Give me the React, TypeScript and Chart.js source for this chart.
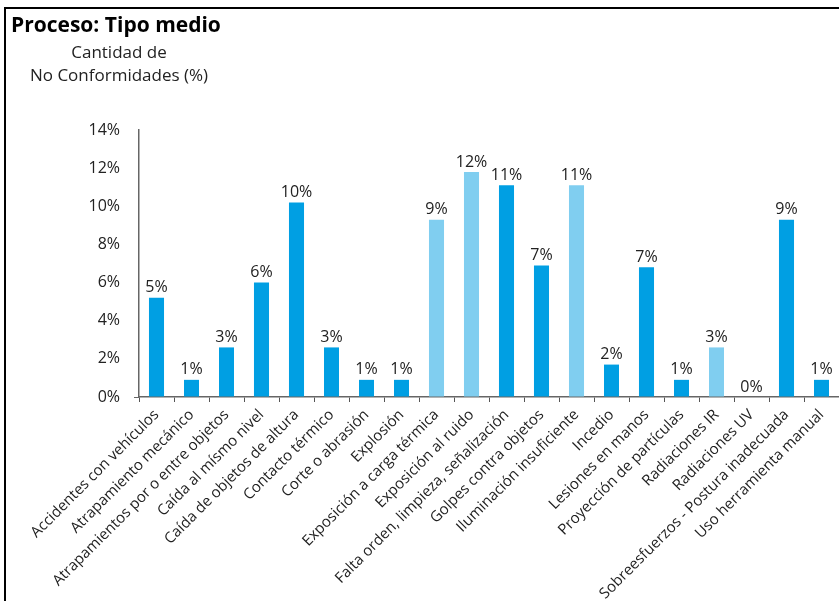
import React, { useEffect, useRef } from "react";
import { Chart, registerables } from "chart.js";

Chart.register(...registerables);

const categories = [
  "Accidentes con vehículos",
  "Atrapamiento mecánico",
  "Atrapamientos por o entre objetos",
  "Caída al mísmo nivel",
  "Caída de objetos de altura",
  "Contacto térmico",
  "Corte o abrasión",
  "Explosión",
  "Exposición a carga térmica",
  "Exposición al ruido",
  "Falta orden, limpieza, señalización",
  "Golpes contra objetos",
  "Iluminación insuficiente",
  "Incedio",
  "Lesiones en manos",
  "Proyección de partículas",
  "Radiaciones IR",
  "Radiaciones UV",
  "Sobreesfuerzos - Postura inadecuada",
  "Uso herramienta manual",
];

const values = [
  5.2, 0.9, 2.6, 6.0, 10.2, 2.6, 0.9, 0.9, 9.3, 11.8,
  11.1, 6.9, 11.1, 1.7, 6.8, 0.9, 2.6, 0, 9.3, 0.9,
];

// 1 = light blue bar, 0 = dark blue bar
const highlight = [0, 0, 0, 0, 0, 0, 0, 0, 1, 1, 0, 0, 1, 0, 0, 0, 1, 0, 0, 0];

const yTicks = [0, 2, 4, 6, 8, 10, 12, 14];

const title = "Proceso: Tipo medio";
const axisTitleLines = ["Cantidad de", "No Conformidades (%)"];

const DARK = "#009fe3";
const LIGHT = "#80cef0";
const FONT = "'Open Sans', sans-serif";

export default function App() {
  const ref = useRef<HTMLCanvasElement | null>(null);

  useEffect(() => {
    document.body.style.margin = "0";
    const canvas = ref.current;
    if (!canvas) return;

    const decor = {
      id: "decor",
      beforeDraw(chart: any) {
        const { ctx } = chart;
        ctx.save();
        ctx.fillStyle = "#fff";
        ctx.fillRect(0, 0, chart.width, chart.height);
        ctx.strokeStyle = "#000";
        ctx.lineWidth = 2;
        ctx.beginPath();
        ctx.moveTo(5, chart.height);
        ctx.lineTo(5, 8);
        ctx.lineTo(chart.width, 8);
        ctx.stroke();
        ctx.fillStyle = "#000";
        ctx.textBaseline = "middle";
        ctx.textAlign = "left";
        ctx.font = `bold 21px ${FONT}`;
        ctx.fillText(title, 11, 26);
        ctx.fillStyle = "#222";
        ctx.textAlign = "center";
        ctx.font = `17px ${FONT}`;
        ctx.fillText(axisTitleLines[0], 119, 53);
        ctx.fillText(axisTitleLines[1], 119, 76);
        ctx.restore();
      },
      afterDatasetsDraw(chart: any) {
        const { ctx } = chart;
        const meta = chart.getDatasetMeta(0);
        ctx.save();
        ctx.fillStyle = "#222";
        ctx.font = `16px ${FONT}`;
        ctx.textAlign = "center";
        ctx.textBaseline = "bottom";
        meta.data.forEach((bar: any, i: number) => {
          ctx.fillText(Math.round(values[i]) + "%", bar.x, bar.y - 2);
        });
        ctx.restore();
      },
    };

    const chart = new Chart(canvas, {
      type: "bar",
      data: {
        labels: categories,
        datasets: [
          {
            data: values,
            backgroundColor: highlight.map((h) => (h ? LIGHT : DARK)),
            barPercentage: 0.43,
            categoryPercentage: 1,
          },
        ],
      },
      options: {
        responsive: false,
        animation: false,
        layout: { padding: { top: 130, right: 0, left: 0, bottom: 0 } },
        plugins: {
          legend: { display: false },
          tooltip: { enabled: false },
        },
        scales: {
          x: {
            grid: {
              display: true,
              drawOnChartArea: false,
              drawTicks: true,
              tickLength: 5,
              color: "#555",
              offset: true,
            },
            border: { display: true, color: "#666", width: 1.5 },
            ticks: {
              color: "#222",
              font: { family: FONT, size: 15 },
              maxRotation: 45,
              minRotation: 45,
              autoSkip: false,
              padding: 4,
            },
            afterFit(scale: any) {
              scale.height = 204;
            },
          },
          y: {
            min: 0,
            max: 14,
            afterBuildTicks(scale: any) {
              scale.ticks = yTicks.map((v) => ({ value: v }));
            },
            grid: {
              display: true,
              drawOnChartArea: false,
              tickLength: 5,
              color: (c: any) => (c.tick && c.tick.value === 0 ? "#666" : "rgba(0,0,0,0)"),
            },
            border: { display: true, color: "#666", width: 1.5 },
            ticks: {
              color: "#222",
              font: { family: FONT, size: 16 },
              padding: 14,
              callback: (v: any) => v + "%",
            },
            afterFit(scale: any) {
              scale.width = 139;
            },
          },
        },
      },
      plugins: [decor],
    });
    return () => chart.destroy();
  }, []);

  return (
    <div style={{ width: 839, height: 601 }}>
      <canvas ref={ref} width={839} height={601} />
    </div>
  );
}
